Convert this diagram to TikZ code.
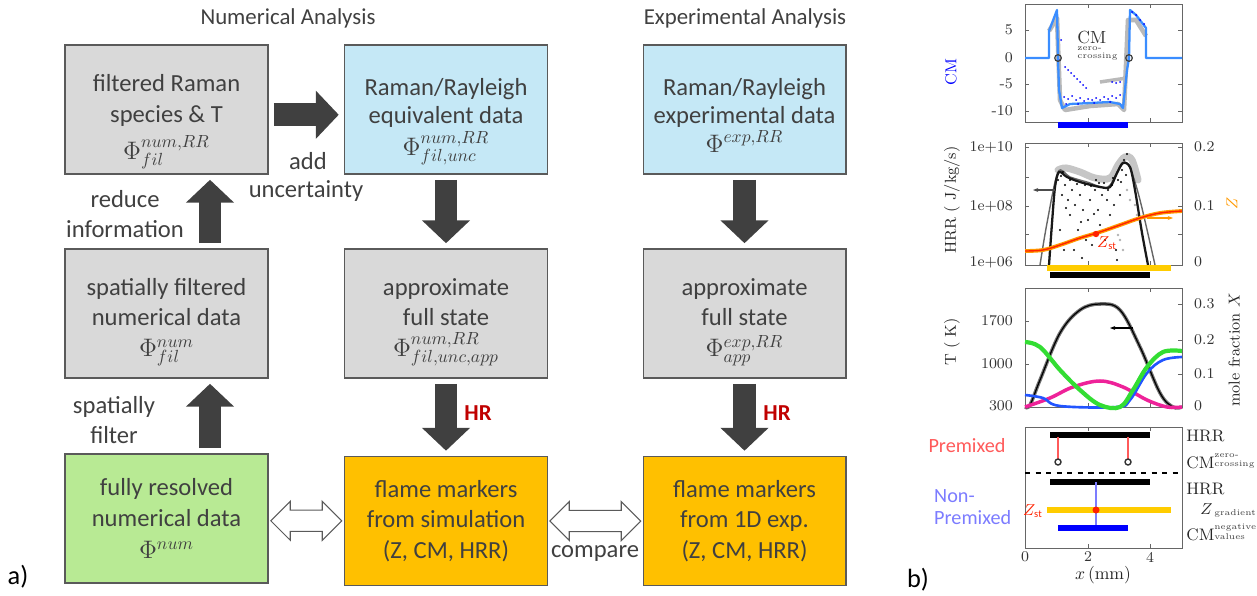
\documentclass[tikz,border=0pt]{standalone}
\usepackage{fontspec}
\setmainfont{Carlito}
\newfontfamily\lmfont{Latin Modern Roman}
\usetikzlibrary{arrows.meta,shapes.arrows,calc}

\definecolor{boxgray}{HTML}{D9D9D9}
\definecolor{boxblue}{HTML}{C5E8F6}
\definecolor{boxgreen}{HTML}{B8EA94}
\definecolor{boxorange}{HTML}{FFC000}
\definecolor{edgegray}{HTML}{5A5A5A}
\definecolor{txtgray}{HTML}{404040}
\definecolor{hrred}{HTML}{C00000}
\definecolor{cmblue}{HTML}{0000FF}
\definecolor{cmlight}{HTML}{3A8DFF}
\definecolor{zorange}{HTML}{FF9900}
\definecolor{zred}{HTML}{FF2200}
\definecolor{xgreen}{HTML}{33DD33}
\definecolor{xmag}{HTML}{EE2299}
\definecolor{xblue}{HTML}{2255FF}
\definecolor{premred}{HTML}{FF5A5A}
\definecolor{nonblue}{HTML}{7C7CFF}
\definecolor{baryellow}{HTML}{FFCC00}

\tikzset{
  box/.style={draw=edgegray, line width=0.6pt, minimum width=4.06cm, minimum height=2.58cm,
    align=center, text=txtgray, font=\fontsize{14}{17.5}\selectfont, inner sep=0pt},
  bigarr/.style={draw=txtgray, line width=13pt, -{Triangle[length=13pt,width=26.6pt]},
    shorten <=3pt, shorten >=3pt},
  openarr/.style={double arrow, draw=edgegray, fill=white, line width=0.6pt, minimum width=0pt,
    double arrow head extend=5.1pt, inner xsep=0pt, inner ysep=5.7pt},
  lbl/.style={text=txtgray, font=\fontsize{14}{17}\selectfont, align=center},
  hrlbl/.style={text=hrred, font=\bfseries\fontsize{13}{15}\selectfont},
  frm/.style={draw=black!60, line width=0.5pt},
  tk/.style={font=\lmfont\fontsize{8.5}{9}\selectfont, text=black!80},
  axl/.style={font=\lmfont\fontsize{9}{10}\selectfont, text=black!85, rotate=90},
  tiny/.style={font=\lmfont\fontsize{4.8}{5}\selectfont, text=black!75, inner sep=0pt},
  mk/.style={font=\lmfont\fontsize{9.5}{10}\selectfont, text=black!85, anchor=west, inner sep=0pt},
  bar/.style={line width=3.4pt},
}

\begin{document}
\begin{tikzpicture}[x=0.02cm,y=-0.02cm]
\useasboundingbox (0,0) rectangle (1257,595);

% flow chart a)
\node[lbl, font=\fontsize{13}{15}\selectfont] (numhdr) at (288,18) {Numerical Analysis};
\node[lbl, font=\fontsize{13}{15}\selectfont] (exphdr) at (745,18) {Experimental Analysis};

\node[box, fill=boxgray, font=\fontsize{14}{18}\selectfont] (b1) at (166.5,109.5)
  {\rule{0pt}{15pt}filtered Raman\\species \& T\\\smash{\raisebox{-3pt}{$\Phi^{num,RR}_{fil}$}}};
\node[box, fill=boxblue, font=\fontsize{14}{15.5}\selectfont] (b2) at (446,109.5)
  {\rule{0pt}{15.5pt}Raman/Rayleigh\\equivalent data\\\smash{\raisebox{-3pt}{$\Phi^{num,RR}_{fil,unc}$}}};
\node[box, fill=boxblue, font=\fontsize{14}{15.5}\selectfont] (b3) at (744.5,109.5)
  {\rule{0pt}{15.5pt}Raman/Rayleigh\\experimental data\\\smash{\raisebox{-1pt}{$\Phi^{exp,RR}$}}};
\node[box, fill=boxgray] (b4) at (166.5,313.5) {\rule{0pt}{14pt}spatially filtered\\numerical data\\\smash{$\Phi^{num}_{fil}$}};
\node[box, fill=boxgray] (b5) at (446,313.5) {\rule{0pt}{14pt}approximate\\full state\\\smash{$\Phi^{num,RR}_{fil,unc,app}$}};
\node[box, fill=boxgray] (b6) at (744.5,313.5) {\rule{0pt}{14pt}approximate\\full state\\\smash{$\Phi^{exp,RR}_{app}$}};
\node[box, fill=boxgreen] (b7) at (166.5,518.5) {fully resolved\\numerical data\\[1pt]$\Phi^{num}$};
\node[box, fill=boxorange] (b8) at (446,521) {flame markers\\from simulation\\(Z, CM, HRR)};
\node[box, fill=boxorange] (b9) at (744.5,521) {flame markers\\from 1D exp.\\(Z, CM, HRR)};

\coordinate (lcol) at (210,0);
\draw[bigarr] ([yshift=-3pt]b1.east) -- ([yshift=-3pt]b2.west);
\draw[bigarr] (b4.north -| lcol) -- (b1.south -| lcol);
\draw[bigarr] (b7.north -| lcol) -- (b4.south -| lcol);
\draw[bigarr] (b2) -- (b5);
\draw[bigarr] (b3) -- (b6);
\draw[bigarr] (b5) -- (b8);
\draw[bigarr] (b6) -- (b9);

\node[openarr, minimum height=1.42cm] (cmp1) at ($(b7.east)!0.5!(b8.west)+(0,1)$) {};
\node[openarr, minimum height=1.82cm] (cmp2) at ($(b8.east)!0.5!(b9.west)$) {};

\node[lbl] (add) at (308,161) {add};
\node[lbl] (unc) at (306,191) {uncertainty};
\node[lbl] (red) at (125,214) {reduce\\information};
\node[lbl] (spf) at (114,420) {spatially\\filter};
\node[lbl] (cmp) at (595,553) {compare};
\node[hrlbl] (hr1) at (478,413) {HR};
\node[hrlbl] (hr2) at (777,413) {HR};
\node[lbl, text=black, font=\fontsize{15}{17}\selectfont] (pa) at (18,577) {a)};
\node[lbl, text=black, font=\fontsize{15}{17}\selectfont] (pb) at (918,580) {b)};

% plot 1: CM
\draw[frm] (1025,4) rectangle (1182,122);
\foreach \tx in {1088,1150} {\draw[frm] (\tx,4) -- (\tx,8); \draw[frm] (\tx,122) -- (\tx,118);}
\foreach \ty/\tl in {30/5,58/0,84/-5,111/-10} {\draw[frm] (1025,\ty) -- (1029,\ty); \draw[frm] (1182,\ty) -- (1178,\ty);
  \node[tk, anchor=east] at (1019,\ty) {\tl};}
\draw[gray!55, line width=2.6pt, line join=round] (1049,31) -- (1057,18) -- (1060,100) -- (1065,110) -- (1090,106) -- (1118,104) -- (1124,110) -- (1128,20) -- (1136,20) -- (1146,36);
\draw[gray!55, line width=2pt] (1100,82) -- (1127,78);
\draw[cmlight, line width=1.3pt, line join=round] (1025,58) -- (1049,58) -- (1049,31) -- (1057,10) -- (1058,58) -- (1059,90) -- (1062,108) -- (1070,104) -- (1090,103) -- (1110,102) -- (1120,104) -- (1123,108) -- (1127,70) -- (1129,58) -- (1130,10) -- (1136,15) -- (1146,28) -- (1146,58) -- (1182,58);
\foreach \px/\py in {1065/67,1068/70,1071/73,1074/76,1077/79,1080/82,1083/85,1086/88,1064/97,1068/99,1072/96,1076/100,1080/98,1084/101,1088/99,1092/100,1096/98,1100/100,1104/97,1108/99,1112/96,1116/98,1120/95,1066/104,1078/104,1094/103,1110/102,1112/82,1116/83,1120/82,1132/12,1136/15,1140/20,1144/24,1061/40,1060/60}
  \fill[cmblue] (\px,\py) circle (1);
\draw[black!75, line width=0.7pt] (1058,58) circle (3.3);
\draw[black!75, line width=0.7pt] (1129,58) circle (3.3);
\node[font=\lmfont\fontsize{10}{11}\selectfont, text=black!80, anchor=west, inner sep=0pt] (cmtxt) at (1077,37) {CM};
\node[tiny, anchor=west] (zc1) at (1077,49) {zero-};
\node[tiny, anchor=west] (zc2) at (1077,57) {crossing};
\node[axl, text=cmblue] (cmax) at (951,72) {CM};
\draw[cmblue, line width=3pt] (1058,125) -- (1128,125);

% plot 2: HRR and Z
\draw[frm] (1025,143) rectangle (1182,265);
\foreach \tx in {1088,1150} {\draw[frm] (\tx,143) -- (\tx,147); \draw[frm] (\tx,265) -- (\tx,261);}
\foreach \ty in {147,177,206,234} {\draw[frm] (1025,\ty) -- (1029,\ty); \draw[frm] (1182,\ty) -- (1178,\ty);}
\node[tk, anchor=east] at (1019,147) {1e+10};
\node[tk, anchor=east] at (1019,206) {1e+08};
\node[tk, anchor=east] at (1019,262) {1e+06};
\node[tk, anchor=west] at (1188,147) {0.2};
\node[tk, anchor=west] at (1188,206) {0.1};
\node[tk, anchor=west] at (1188,262) {0};
\draw[gray!45, line width=4pt, line cap=round] plot[smooth, tension=0.6] coordinates {(1058,170) (1066,168) (1080,172) (1095,178) (1110,178) (1118,165) (1125,157) (1132,160) (1138,180)};
\foreach \px/\py in {1120/240,1123/250,1118/235,1137/215,1135/205,1130/200,1127/190}
  \fill[gray!60] (\px,\py) circle (1.4);
\draw[black!60, line width=0.8pt] plot[smooth, tension=0.5] coordinates {(1040,265) (1047,223) (1058,172) (1070,177) (1087,182) (1108,187) (1122,163) (1130,168) (1140,200) (1155,265)};
\draw[black!90, line width=1.3pt] plot[smooth, tension=0.5] coordinates {(1049,265) (1052,223) (1055,187) (1059,172) (1067,177) (1080,182) (1100,187) (1110,187) (1117,173) (1123,163) (1130,167) (1135,190) (1142,233) (1148,265)};
\foreach \px/\py in {1058/180,1062/195,1065/185,1068/200,1070/215,1072/190,1075/205,1078/230,1080/195,1083/210,1085/185,1088/220,1090/200,1092/245,1095/190,1098/210,1100/225,1102/195,1105/240,1107/200,1110/215,1112/185,1114/205,1116/250,1118/180,1120/195,1122/170,1124/160,1126/175,1060/230,1064/250,1082/258,1117/260,1086/240,1074/250,1096/180,1104/183,1061/176,1127/154,1063/172,1070/180,1077/184,1091/186,1099/183,1108/190,1113/178,1121/182,1066/208,1081/222,1094/214}
  \fill[black] (\px,\py) circle (1.2);
\draw[zorange, line width=2.2pt] plot[smooth, tension=0.6] coordinates {(1025,251) (1043,250) (1060,245) (1080,238) (1100,232) (1120,225) (1140,218) (1160,213) (1182,211)};
\draw[zred, line width=0.8pt] plot[smooth, tension=0.6] coordinates {(1025,251) (1043,250) (1060,245) (1080,238) (1100,232) (1120,225) (1140,218) (1160,213) (1182,211)};
\fill[zred] (1096,234) circle (3.2);
\node[font=\lmfont\fontsize{9}{10}\selectfont, text=zred, inner sep=0pt] (zst1) at (1107,243) {$Z_{\mathrm{st}}$};
\draw[black!70, line width=0.6pt, -{Stealth[length=3pt]}] (1055,190) -- (1033,190);
\draw[zorange, line width=0.6pt, -{Stealth[length=3pt]}] (1147,218) -- (1173,218);
\node[axl] (hrrax) at (952,200) {HRR ( J/kg/s)};
\node[axl, text=zorange] (zax) at (1232,203) {$Z$};
\draw[baryellow, bar] (1047,268) -- (1171,268);
\draw[black, bar] (1050,275) -- (1150,275);

% plot 3: T and mole fractions
\draw[frm] (1025,288) rectangle (1182,407);
\foreach \tx in {1088,1150} {\draw[frm] (\tx,288) -- (\tx,292); \draw[frm] (\tx,407) -- (\tx,403);}
\foreach \ty in {321,364} {\draw[frm] (1025,\ty) -- (1029,\ty);}
\foreach \ty in {304,340,374} {\draw[frm] (1182,\ty) -- (1178,\ty);}
\node[tk, anchor=east] at (1019,321) {1700};
\node[tk, anchor=east] at (1019,364) {1000};
\node[tk, anchor=east] at (1019,406) {300};
\node[tk, anchor=west] at (1188,304) {0.3};
\node[tk, anchor=west] at (1188,340) {0.2};
\node[tk, anchor=west] at (1188,374) {0.1};
\node[tk, anchor=west] at (1188,406) {0};
\draw[black!55, line width=2pt] plot[smooth, tension=0.6] coordinates {(1025,407) (1030,405) (1040,380) (1060,333) (1080,310) (1100,304) (1120,310) (1140,347) (1160,393) (1173,407) (1182,407)};
\draw[black, line width=0.7pt] plot[smooth, tension=0.6] coordinates {(1025,407) (1030,405) (1040,380) (1060,333) (1080,310) (1100,304) (1120,310) (1140,347) (1160,393) (1173,407) (1182,407)};
\draw[xmag, line width=2pt] plot[smooth, tension=0.6] coordinates {(1025,407) (1050,398) (1073,387) (1100,381) (1123,387) (1147,400) (1167,407) (1182,407)};
\draw[xblue, line width=1.5pt] plot[smooth, tension=0.6] coordinates {(1025,395) (1043,398) (1060,406) (1117,407) (1130,400) (1147,373) (1163,360) (1182,357)};
\draw[xgreen, line width=2.4pt] plot[smooth, tension=0.6] coordinates {(1025,342) (1040,347) (1060,370) (1080,390) (1100,405) (1120,407) (1133,390) (1147,367) (1163,352) (1182,351)};
\draw[black, line width=0.6pt, -{Stealth[length=3pt]}] (1133,328) -- (1110,328);
\node[axl] (tax) at (952,342) {T ( K)};
\node[axl] (xax) at (1234,350) {mole fraction $X$};

% plot 4: marker summary
\draw[frm] (1025,427) rectangle (1182,548);
\foreach \tx in {1088,1150} {\draw[frm] (\tx,427) -- (\tx,431); \draw[frm] (\tx,548) -- (\tx,544);}
\node[tk] at (1025,557) {0};
\node[tk] at (1088,557) {2};
\node[tk] at (1150,557) {4};
\node[font=\lmfont\fontsize{10}{11}\selectfont, text=black!85] (xlab) at (1103,575) {$x\,$(mm)};
\draw[black, bar] (1050,435) -- (1150,435);
\draw[premred, line width=0.7pt] (1058,437) -- (1058,459);
\draw[premred, line width=0.7pt] (1128,437) -- (1128,459);
\draw[black!80, line width=0.8pt] (1058,462) circle (3);
\draw[black!80, line width=0.8pt] (1128,462) circle (3);
\draw[black, line width=0.8pt, dashed] (1025,473) -- (1182,473);
\draw[black, bar] (1050,482) -- (1150,482);
\draw[nonblue, line width=0.7pt] (1096,482) -- (1096,527);
\draw[baryellow, bar] (1047,510) -- (1171,510);
\fill[zred] (1096,510) circle (3.5);
\draw[cmblue, bar] (1058,528) -- (1128,528);
\node[font=\lmfont\fontsize{9}{10}\selectfont, text=zred, anchor=east, inner sep=0pt] (zst2) at (1043,511) {$Z_{\mathrm{st}}$};

\node[mk] (h1) at (1186,436) {HRR};
\node[mk] (c1) at (1186,463) {CM};
\node[tiny, anchor=west] at (1214,456) {zero-};
\node[tiny, anchor=west] at (1214,465) {crossing};
\node[mk] (h2) at (1186,489) {HRR};
\node[mk] (zg) at (1200,509) {$Z$};
\node[tiny, anchor=west] at (1214,513) {gradient};
\node[mk] (c2) at (1186,535) {CM};
\node[tiny, anchor=west] at (1214,528) {negative};
\node[tiny, anchor=west] at (1214,537) {values};

\node[font=\fontsize{11.5}{13}\selectfont, text=premred] (prem) at (967,446) {Premixed};
\node[font=\fontsize{11.5}{13}\selectfont, text=nonblue, align=left, anchor=west] (nonprem) at (928,507) {Non-\\Premixed};
\end{tikzpicture}
\end{document}
